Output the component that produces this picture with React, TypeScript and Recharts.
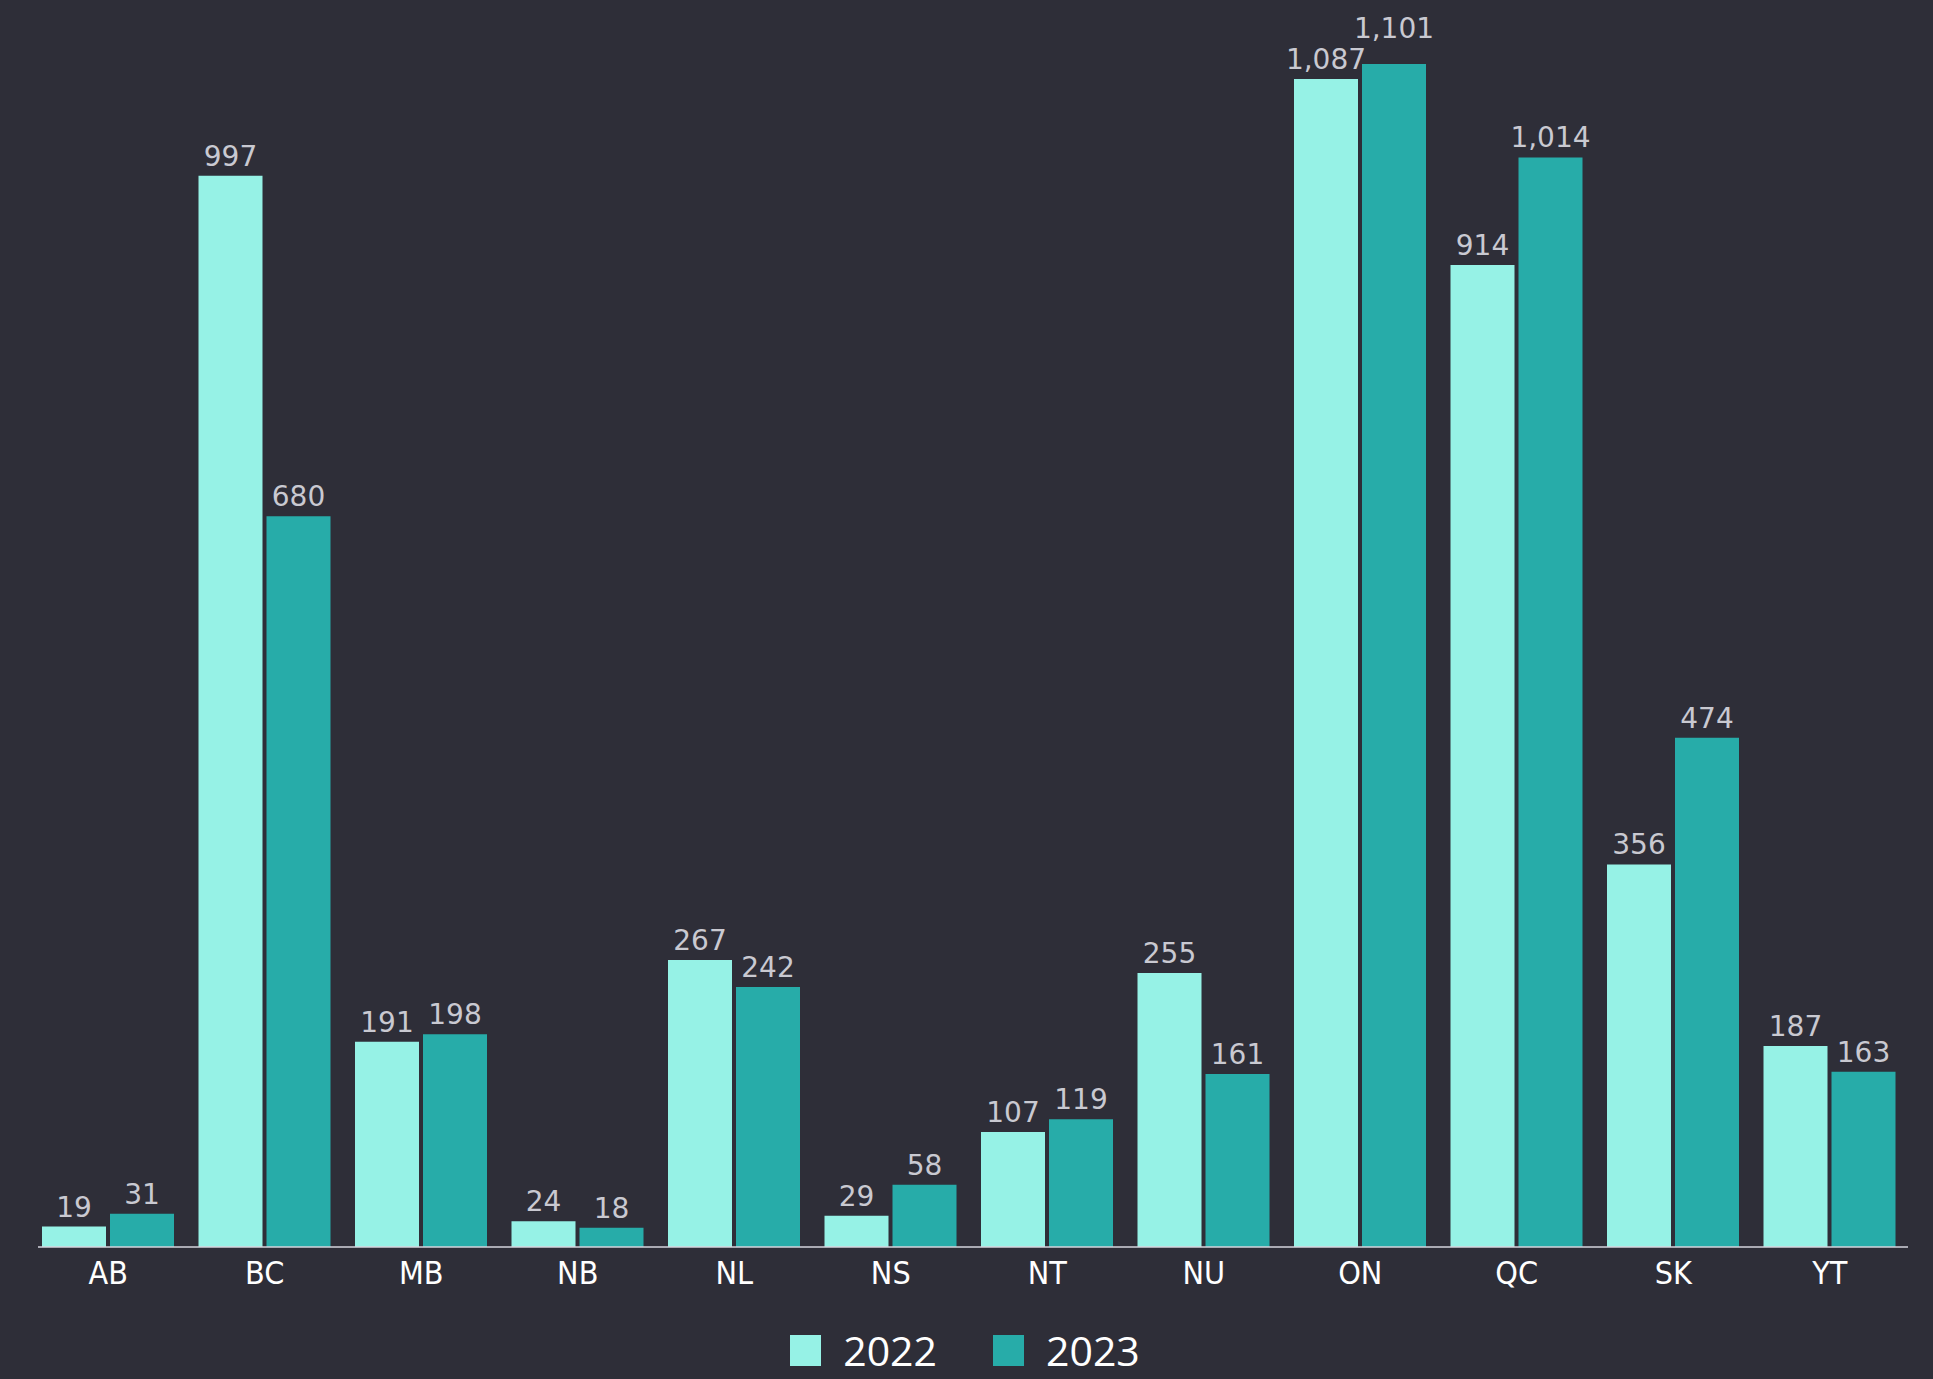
import { BarChart, Bar, XAxis, YAxis, LabelList, Legend } from 'recharts';

const provinces = ['AB', 'BC', 'MB', 'NB', 'NL', 'NS', 'NT', 'NU', 'ON', 'QC', 'SK', 'YT'];
const values2022 = [19, 997, 191, 24, 267, 29, 107, 255, 1087, 914, 356, 187];
const values2023 = [31, 680, 198, 18, 242, 58, 119, 161, 1101, 1014, 474, 163];
const seriesNames = ['2022', '2023'];

const BG = '#2e2e38';
const LIGHT = '#96f2e6';
const DARK = '#27aca9';
const LABEL_SIZE = 28;

const data = provinces.map((p, i) => ({
  name: p,
  y2022: values2022[i],
  y2023: values2023[i],
}));

const fmt = (v: any) => Number(v).toLocaleString('en-US');

// rough width of a label in DejaVu Sans
const textWidth = (s: string) =>
  s.split('').reduce((w, c) => w + (c === ',' ? 0.32 : 0.64), 0) * LABEL_SIZE;

// value label; the 2023 label steps up when it would collide with the 2022 one
function ValueLabel(props: any) {
  const { x, y, width, index, series, height } = props;
  const v = series === 0 ? values2022[index] : values2023[index];
  let baseY = y - 10;
  if (series === 1) {
    const other = values2022[index];
    const need = (textWidth(fmt(v)) + textWidth(fmt(other))) / 2;
    const centerDist = width + 4;
    // pixel height of the 2022 bar, from this bar's own scale
    const pxPerUnit = height / v;
    const otherBase = y + height - other * pxPerUnit - 10;
    if (need > centerDist && Math.abs(otherBase - baseY) < LABEL_SIZE) {
      baseY = Math.min(baseY, otherBase - LABEL_SIZE * 1.1);
    }
  }
  return (
    <text
      x={x + width / 2}
      y={baseY}
      textAnchor="middle"
      fill="#c9c9d1"
      fontSize={LABEL_SIZE}
      fontFamily='"DejaVu Sans", sans-serif'
    >
      {fmt(v)}
    </text>
  );
}

function LegendBox() {
  const items = [
    { label: seriesNames[0], color: LIGHT },
    { label: seriesNames[1], color: DARK },
  ];
  return (
    <div
      style={{
        display: 'flex',
        justifyContent: 'center',
        alignItems: 'center',
        height: 77,
        paddingTop: 20,
        paddingRight: 16,
        boxSizing: 'border-box',
      }}
    >
      {items.map((it, i) => (
        <div
          key={it.label}
          style={{ display: 'flex', alignItems: 'center', marginLeft: i ? 56 : 0 }}
        >
          <div style={{ width: 31, height: 31, background: it.color }} />
          <span
            style={{
              marginLeft: 22,
              color: '#ffffff',
              fontSize: 41,
              fontFamily: '"Open Sans", sans-serif',
              lineHeight: 1,
            }}
          >
            {it.label}
          </span>
        </div>
      ))}
    </div>
  );
}

export default function App() {
  return (
    <div style={{ position: 'fixed', inset: 0, background: BG, overflow: 'hidden' }}>
      <BarChart
        width={1933}
        height={1379}
        data={data}
        margin={{ top: 64, right: 25, left: 38, bottom: 0 }}
        barSize={64}
        barGap={4}
      >
        <XAxis
          dataKey="name"
          height={55}
          padding={{ left: -8, right: 0 }}
          tickLine={false}
          tickSize={0}
          tickMargin={14}
          axisLine={{ stroke: '#d4d4dc', strokeWidth: 1.5 }}
          tick={{ fill: '#ffffff', fontSize: 32, fontFamily: '"DejaVu Sans Condensed", sans-serif' }}
          interval={0}
        />
        <YAxis hide domain={[0, 'dataMax']} />
        <Legend verticalAlign="bottom" height={77} content={() => <LegendBox />} />
        <Bar dataKey="y2022" name="2022" fill={LIGHT} isAnimationActive={false}>
          <LabelList dataKey="y2022" content={(p: any) => <ValueLabel {...p} series={0} />} />
        </Bar>
        <Bar dataKey="y2023" name="2023" fill={DARK} isAnimationActive={false}>
          <LabelList dataKey="y2023" content={(p: any) => <ValueLabel {...p} series={1} />} />
        </Bar>
      </BarChart>
    </div>
  );
}
